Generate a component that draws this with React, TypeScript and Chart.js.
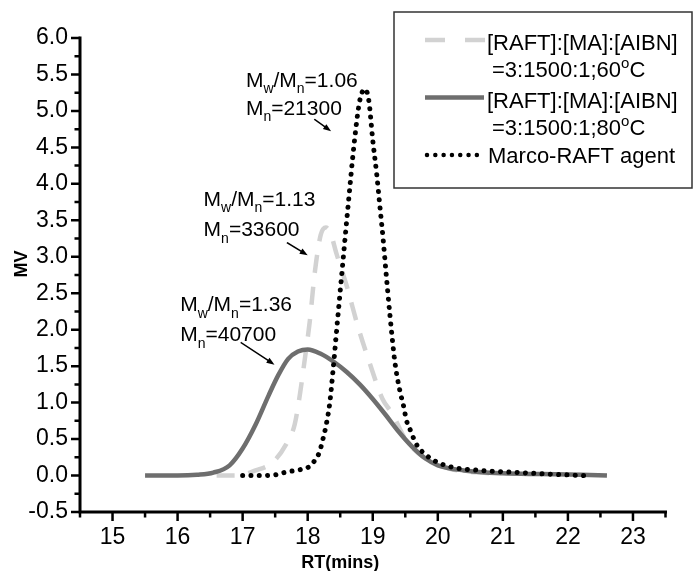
import React, { useEffect, useRef } from 'react';
import { Chart, registerables } from 'chart.js';

Chart.register(...registerables);

const FONT = "'Liberation Sans', Arial, sans-serif";

// Axis ranges and ticks
const X_MIN = 14.5;
const X_MAX = 23.5;
const Y_MIN = -0.5;
const Y_MAX = 6.0;
const X_TICKS = [15, 16, 17, 18, 19, 20, 21, 22, 23];
const X_MINOR = [14.5, 15.5, 16.5, 17.5, 18.5, 19.5, 20.5, 21.5, 22.5, 23.5];
const Y_TICKS = [-0.5, 0, 0.5, 1.0, 1.5, 2.0, 2.5, 3.0, 3.5, 4.0, 4.5, 5.0, 5.5, 6.0];
const Y_MINOR = [-0.25, 0.25, 0.75, 1.25, 1.75, 2.25, 2.75, 3.25, 3.75, 4.25, 4.75, 5.25, 5.75];

// [RAFT]:[MA]:[AIBN]=3:1500:1; 80°C (solid)
const SOLID_X = [15.5, 16.0, 16.3, 16.55, 16.8, 17.0, 17.2, 17.4, 17.55, 17.7, 17.85, 18.0, 18.2, 18.4, 18.6, 18.8, 19.0, 19.2, 19.4, 19.6, 19.8, 20.0, 20.4, 21.0, 21.6, 22.2, 22.6];
const SOLID_Y = [0, 0, 0.01, 0.04, 0.14, 0.37, 0.7, 1.1, 1.38, 1.6, 1.7, 1.73, 1.67, 1.56, 1.42, 1.25, 1.05, 0.83, 0.6, 0.4, 0.24, 0.14, 0.07, 0.03, 0.02, 0.01, 0.0];

// [RAFT]:[MA]:[AIBN]=3:1500:1; 60°C (dashed)
const DASHED_X = [16.6, 16.9, 17.2, 17.46, 17.67, 17.8, 17.88, 17.95, 18.03, 18.11, 18.2, 18.28, 18.36, 18.44, 18.6, 18.77, 18.95, 19.15, 19.3, 19.5, 19.8, 20.2, 20.8];
const DASHED_Y = [0, 0, 0.07, 0.18, 0.43, 0.7, 1.11, 1.56, 2.1, 2.79, 3.3, 3.4, 3.3, 3.05, 2.6, 2.05, 1.55, 1.05, 0.85, 0.5, 0.24, 0.09, 0.03];

// Marco-RAFT agent (dotted)
const DOTTED_X = [17.0, 17.3, 17.5, 17.68, 17.88, 18.02, 18.12, 18.18, 18.24, 18.29, 18.34, 18.39, 18.47, 18.54, 18.62, 18.72, 18.8, 18.88, 18.94, 19.0, 19.06, 19.11, 19.16, 19.2, 19.26, 19.34, 19.42, 19.47, 19.52, 19.57, 19.67, 19.77, 19.88, 20.0, 20.24, 20.65, 21.16, 21.7, 22.25];
const DOTTED_Y = [0, 0, 0.01, 0.05, 0.08, 0.12, 0.22, 0.32, 0.52, 0.72, 1.0, 1.45, 2.24, 2.92, 3.69, 4.6, 5.14, 5.3, 5.14, 4.6, 4.14, 3.69, 3.24, 2.83, 2.24, 1.56, 1.15, 0.97, 0.75, 0.64, 0.43, 0.32, 0.24, 0.18, 0.11, 0.07, 0.045, 0.02, 0.0];

// Annotation texts
const PDI = ['1.06', '1.13', '1.36'];
const MN = ['21300', '33600', '40700'];

const LEGEND_L1 = ['[RAFT]:[MA]:[AIBN]', '[RAFT]:[MA]:[AIBN]', 'Marco-RAFT agent'];
const LEGEND_L2 = ['=3:1500:1;60', '=3:1500:1;80', ''];

const COL_SOLID = '#6e6e6e';
const COL_DASHED = '#d2d2d2';
const COL_DOTTED = '#000000';

type Seg = [string, 'n' | 's' | 'p'];

function rich(ctx: CanvasRenderingContext2D, x: number, y: number, segs: Seg[], size: number) {
  let cx = x;
  ctx.textAlign = 'left';
  ctx.textBaseline = 'alphabetic';
  for (const [t, k] of segs) {
    const fs = k === 'n' ? size : Math.round(size * 0.66);
    const dy = k === 's' ? size * 0.3 : k === 'p' ? -size * 0.42 : 0;
    ctx.font = `${fs}px ${FONT}`;
    ctx.fillText(t, cx, y + dy);
    cx += ctx.measureText(t).width;
  }
}

function arrow(ctx: CanvasRenderingContext2D, x1: number, y1: number, x2: number, y2: number) {
  const a = Math.atan2(y2 - y1, x2 - x1);
  const L = 8;
  const W = 3;
  ctx.beginPath();
  ctx.moveTo(x1, y1);
  ctx.lineTo(x2 - L * Math.cos(a) * 0.6, y2 - L * Math.sin(a) * 0.6);
  ctx.lineWidth = 1.5;
  ctx.stroke();
  ctx.beginPath();
  ctx.moveTo(x2, y2);
  ctx.lineTo(x2 - L * Math.cos(a) + W * Math.sin(a), y2 - L * Math.sin(a) - W * Math.cos(a));
  ctx.lineTo(x2 - L * Math.cos(a) - W * Math.sin(a), y2 - L * Math.sin(a) + W * Math.cos(a));
  ctx.closePath();
  ctx.fill();
}

const ANN_X = [17.05, 16.4, 16.04];
const ANN_Y1 = [5.33, 3.7, 2.25];
const ANN_Y2 = [4.95, 3.28, 1.84];
const ARROWS = [
  [18.11, 4.88, 18.36, 4.72],
  [17.69, 3.19, 18.0, 3.02],
  [16.98, 1.82, 17.49, 1.52],
];

const decor = {
  id: 'decor',
  afterDraw(chart: any) {
    const { ctx, scales } = chart;
    const xs = scales.x;
    const ys = scales.y;
    const px = (v: number) => xs.getPixelForValue(v);
    const py = (v: number) => ys.getPixelForValue(v);
    ctx.save();
    ctx.strokeStyle = '#000';
    ctx.fillStyle = '#000';

    const x0 = px(X_MIN);
    const x1 = px(X_MAX);
    const yb = py(Y_MIN);
    const yt = py(Y_MAX);
    // ticks
    ctx.lineWidth = 2.5;
    ctx.lineCap = 'butt';
    ctx.beginPath();
    X_TICKS.forEach((v) => { ctx.moveTo(px(v), yb); ctx.lineTo(px(v), yb + 9); });
    X_MINOR.forEach((v) => { ctx.moveTo(px(v), yb); ctx.lineTo(px(v), yb + 5.5); });
    Y_TICKS.forEach((v) => { ctx.moveTo(x0, py(v)); ctx.lineTo(x0 - 9, py(v)); });
    Y_MINOR.forEach((v) => { ctx.moveTo(x0, py(v)); ctx.lineTo(x0 - 5.5, py(v)); });
    ctx.stroke();
    // axis lines
    ctx.lineWidth = 3;
    ctx.lineCap = 'square';
    ctx.beginPath();
    ctx.moveTo(x0, yt);
    ctx.lineTo(x0, yb);
    ctx.lineTo(x1, yb);
    ctx.stroke();

    // axis titles
    ctx.font = `bold 18px ${FONT}`;
    ctx.textAlign = 'center';
    ctx.textBaseline = 'alphabetic';
    ctx.fillText('RT(mins)', px(18.5), 568);
    ctx.save();
    ctx.translate(27, py(2.9));
    ctx.rotate(-Math.PI / 2);
    ctx.fillText('MV', 0, 0);
    ctx.restore();

    // annotations
    for (let i = 0; i < PDI.length; i++) {
      const ax = px(ANN_X[i]);
      rich(ctx, ax, py(ANN_Y1[i]), [['M', 'n'], ['w', 's'], ['/M', 'n'], ['n', 's'], ['=' + PDI[i], 'n']], 21);
      rich(ctx, ax, py(ANN_Y2[i]), [['M', 'n'], ['n', 's'], ['=' + MN[i], 'n']], 21);
      const a = ARROWS[i];
      arrow(ctx, px(a[0]), py(a[1]), px(a[2]), py(a[3]));
    }

    // legend box
    ctx.lineWidth = 1.5;
    ctx.strokeStyle = '#333';
    ctx.lineCap = 'butt';
    ctx.setLineDash([]);
    ctx.strokeRect(394, 12, 298, 176);
    ctx.fillStyle = '#000';
    // sample 1: dashed
    ctx.strokeStyle = COL_DASHED;
    ctx.lineWidth = 4.5;
    ctx.setLineDash([20, 20]);
    ctx.beginPath(); ctx.moveTo(425, 40); ctx.lineTo(485, 40); ctx.stroke();
    // sample 2: solid
    ctx.strokeStyle = COL_SOLID;
    ctx.setLineDash([]);
    ctx.beginPath(); ctx.moveTo(425, 97.5); ctx.lineTo(484, 97.5); ctx.stroke();
    // sample 3: dotted
    ctx.strokeStyle = COL_DOTTED;
    ctx.lineWidth = 4.5;
    ctx.lineCap = 'round';
    ctx.setLineDash([0.01, 8.3]);
    ctx.beginPath(); ctx.moveTo(427, 155); ctx.lineTo(478, 155); ctx.stroke();
    ctx.setLineDash([]);
    ctx.lineCap = 'butt';

    rich(ctx, 487, 50, [[LEGEND_L1[0], 'n']], 22);
    rich(ctx, 492, 77, [[LEGEND_L2[0], 'n'], ['o', 'p'], ['C', 'n']], 22);
    rich(ctx, 487, 108, [[LEGEND_L1[1], 'n']], 22);
    rich(ctx, 492, 135, [[LEGEND_L2[1], 'n'], ['o', 'p'], ['C', 'n']], 22);
    rich(ctx, 488, 163, [[LEGEND_L1[2], 'n']], 22);

    ctx.restore();
  },
};

const pts = (xs: number[], ys: number[]) => xs.map((x, i) => ({ x, y: ys[i] }));

export default function App() {
  const ref = useRef<HTMLCanvasElement>(null);
  useEffect(() => {
    document.body.style.margin = '0';
    const chart = new Chart(ref.current as HTMLCanvasElement, {
      type: 'line',
      data: {
        datasets: [
          {
            label: '[RAFT]:[MA]:[AIBN]=3:1500:1;60°C',
            data: pts(DASHED_X, DASHED_Y),
            borderColor: COL_DASHED,
            borderWidth: 4.5,
            borderDash: [18, 14],
            pointRadius: 0,
            cubicInterpolationMode: 'monotone',
            order: 3,
          },
          {
            label: '[RAFT]:[MA]:[AIBN]=3:1500:1;80°C',
            data: pts(SOLID_X, SOLID_Y),
            borderColor: COL_SOLID,
            borderWidth: 4.5,
            pointRadius: 0,
            cubicInterpolationMode: 'monotone',
            order: 2,
          },
          {
            label: 'Marco-RAFT agent',
            data: pts(DOTTED_X, DOTTED_Y),
            borderColor: COL_DOTTED,
            borderWidth: 5,
            borderDash: [0.01, 8.3],
            borderCapStyle: 'round',
            pointRadius: 0,
            cubicInterpolationMode: 'monotone',
            order: 1,
          },
        ] as any,
      },
      options: {
        animation: false,
        responsive: false,
        devicePixelRatio: 1,
        layout: { padding: { left: 0, top: 38, right: 27.5, bottom: 0 } },
        plugins: { legend: { display: false }, tooltip: { enabled: false } },
        scales: {
          x: {
            type: 'linear',
            min: X_MIN,
            max: X_MAX,
            grid: { display: false, drawTicks: false },
            border: { display: false },
            afterBuildTicks: (s: any) => { s.ticks = X_TICKS.map((v) => ({ value: v })); },
            afterFit: (s: any) => { s.height = 59; },
            ticks: {
              autoSkip: false,
              maxRotation: 0,
              padding: 12,
              color: '#000',
              font: { family: FONT, size: 23 },
              callback: (v: any) => String(v),
            },
          },
          y: {
            type: 'linear',
            min: Y_MIN,
            max: Y_MAX,
            grid: { display: false, drawTicks: false },
            border: { display: false },
            afterBuildTicks: (s: any) => { s.ticks = Y_TICKS.map((v) => ({ value: v })); },
            afterFit: (s: any) => { s.width = 80; },
            ticks: {
              autoSkip: false,
              padding: 12,
              color: '#000',
              font: { family: FONT, size: 23 },
              callback: (v: any) => Number(v).toFixed(1),
            },
          },
        },
      } as any,
      plugins: [decor],
    });
    return () => chart.destroy();
  }, []);
  return (
    <div style={{ width: 693, height: 571, background: '#fff' }}>
      <canvas ref={ref} width={693} height={571} style={{ display: 'block', width: 693, height: 571 }} />
    </div>
  );
}
